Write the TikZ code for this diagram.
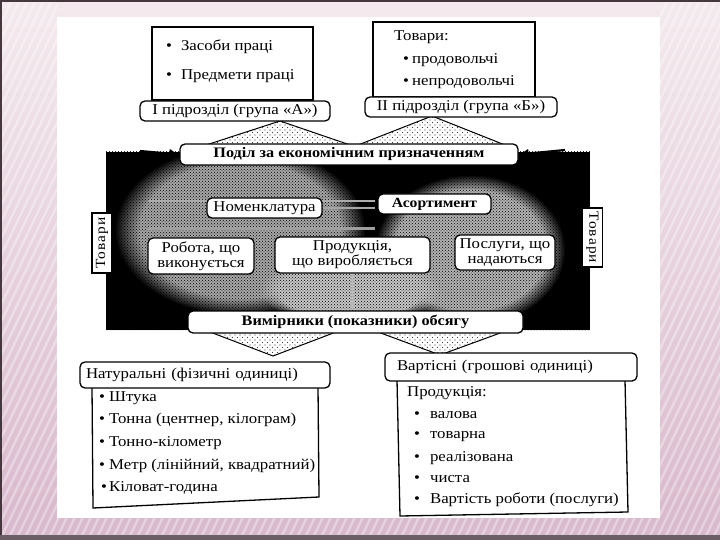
\documentclass[tikz,border=0pt]{standalone}
\usepackage{fontspec}
\setmainfont{Liberation Serif}[FakeStretch=1.12]
\newfontfamily\spacedfont[LetterSpace=8,FakeStretch=1.1]{Liberation Serif}
\usetikzlibrary{patterns,arrows.meta,fadings}
\definecolor{slidetop}{RGB}{244,234,238}
\definecolor{slidebot}{RGB}{216,184,204}
\definecolor{frameline}{RGB}{70,55,62}
\pgfdeclarepatternformonly{sparsedots}{\pgfpoint{-1pt}{-1pt}}{\pgfpoint{6pt}{6pt}}{\pgfpoint{5pt}{5pt}}{%
  \pgfpathcircle{\pgfpoint{0pt}{0pt}}{0.6pt}\pgfpathcircle{\pgfpoint{2.5pt}{2.5pt}}{0.6pt}\pgfusepath{fill}}
\begin{document}
\begin{tikzpicture}[x=1pt,y=-1pt,
  txt/.style={inner sep=0pt, font=\fontsize{15}{17}\selectfont},
  rbox/.style={draw, fill=white, rounded corners=5pt, line width=1.3pt, inner sep=0pt, align=center, font=\fontsize{15}{17}\selectfont},
  sqbox/.style={draw, fill=white, line width=1.3pt, inner sep=0pt},
  tri/.style={draw, line width=1pt, pattern=sparsedots, pattern color=black!75},
  bandarrow/.style={line width=2.2pt, -{Latex[length=10pt,width=10pt]}},
  vtext/.style={draw, fill=white, line width=1.2pt, inner sep=0pt, minimum height=20pt, font=\spacedfont\fontsize{14}{15}\selectfont}
]
\useasboundingbox (0,0) rectangle (720,540);
% slide background
\shade[top color=slidetop, bottom color=slidebot] (0,0) rectangle (720,540);
\begin{scope}
  \clip (0,0) rectangle (57,540) (660,0) rectangle (720,540) (57,518) rectangle (660,535);
  \foreach \i in {-400,-392,...,800} \draw[white, opacity=0.35, line width=2.5pt] (\i,540) -- (\i+260,0);
\end{scope}
\fill[frameline] (0,0) rectangle (720,2);
\fill[frameline] (0,0) rectangle (2,540);
\fill[frameline!80] (0,535) rectangle (720,540);
% white panel
\fill[white] (57,17) rectangle (660,518);

% dark band
\fill[black] (106,152) rectangle (590,330);
\fill[gray!70, path fading=circle with fuzzy edge 20 percent] (240,230) ellipse [x radius=125pt, y radius=85pt];
\fill[gray!60, path fading=circle with fuzzy edge 20 percent] (470,250) ellipse [x radius=95pt, y radius=75pt];
\fill[gray!45, path fading=circle with fuzzy edge 20 percent] (350,290) ellipse [x radius=90pt, y radius=35pt];
\fill[pattern=crosshatch dots, pattern color=black] (106,152) rectangle (590,330);
\draw[gray!65, line width=2pt] (148,201) -- (375,201);
\draw[gray!75, line width=3pt] (148,229) -- (375,229);

% upper triangles
\draw[tri] (200,147) -- (280,121) -- (356,147) -- cycle;
\draw[tri] (358,145) -- (432,116) -- (505,145) -- cycle;

% top boxes
\node[sqbox, minimum width=161pt, minimum height=73pt] (boxA) at (232.5,63.5) {};
\node[txt, anchor=west] (a1) at (166,47) {\textbullet\hspace{9pt}Засоби праці};
\node[txt, anchor=west] (a2) at (166,76) {\textbullet\hspace{9pt}Предмети праці};
\node[sqbox, minimum width=162pt, minimum height=75pt] (boxB) at (454,59.5) {};
\node[txt, anchor=west] (b0) at (394,37) {Товари:};
\node[txt, anchor=west] (b1) at (403,60) {\textbullet\hspace{3pt}продовольчі};
\node[txt, anchor=west] (b2) at (403,82) {\textbullet\hspace{3pt}непродовольчі};
\node[rbox, minimum width=190pt, minimum height=20pt] (grA) at (235,111) {I підрозділ (група «А»)};
\node[rbox, minimum width=192pt, minimum height=20pt] (grB) at (461,107) {II підрозділ (група «Б»)};

\node[rbox, minimum width=338pt, minimum height=21pt, font=\bfseries\fontsize{14.5}{16}\selectfont] (podil) at (349,154.5) {Поділ за економічним призначенням};

% band arrows
\coordinate (pL) at (140,151);
\coordinate (pR) at (565,150);
\coordinate (vL) at (140,324);
\coordinate (vR) at (565,323);
\draw[bandarrow] (pL) -- (podil.west);
\draw[bandarrow] (pR) -- (podil.east);

% inner boxes
\node[rbox, minimum width=115pt, minimum height=20pt] (nomen) at (264.5,208) {Номенклатура};
\draw[gray!70, line width=2pt] (nomen.east) -- (375,208);
\node[rbox, minimum width=113pt, minimum height=20pt, font=\bfseries\fontsize{14}{16}\selectfont] (asort) at (434.5,204) {Асортимент};
\node[rbox, minimum width=106pt, minimum height=36pt, font=\fontsize{15}{15}\selectfont] (robota) at (201,256) {Робота, що\\виконується};
\node[rbox, minimum width=155pt, minimum height=36pt, font=\fontsize{15}{15}\selectfont] (produk) at (352.5,255) {Продукція,\\що виробляється};
\node[rbox, minimum width=100pt, minimum height=35pt, font=\fontsize{15}{15}\selectfont] (posl) at (505,252.5) {Послуги, що\\надаються};
\node[vtext, minimum width=60pt, rotate=90] (tovL) at (102,243) {Товари};
\node[vtext, minimum width=59pt, rotate=-90] (tovR) at (592.5,237.5) {Товари};

% lower triangles
\draw[tri] (210,332) -- (273,356) -- (336,332) -- cycle;
\draw[tri] (378,332) -- (440,355) -- (503,332) -- cycle;

\node[rbox, minimum width=335pt, minimum height=22pt, font=\bfseries\fontsize{14.5}{16}\selectfont] (vym) at (355.5,322) {Вимірники (показники) обсягу};
\draw[gray!55, line width=1pt, -{Latex[length=8pt,width=6pt]}] (produk.south) -- (produk.south |- vym.north);
\draw[bandarrow] (vL) -- (vym.west);
\draw[bandarrow] (vR) -- (vym.east);

% lower lists
\draw[fill=white, line width=1.3pt] (92,386) -- (318,386) -- (319,497) -- (93,508) -- cycle;
\draw[fill=white, line width=1.3pt] (397,380) -- (625,380) -- (628,512) -- (400,516) -- cycle;
\node[rbox, minimum width=250pt, minimum height=26pt, text width=238pt, align=left] (natur) at (205,375) {Натуральні (фізичні одиниці)};
\node[rbox, minimum width=252pt, minimum height=28pt, text width=228pt, align=left] (vart) at (511,367) {Вартісні (грошові одиниці)};

\node[txt, anchor=west] (n1) at (99,398) {\textbullet\hspace{4pt}Штука};
\node[txt, anchor=west] (n2) at (99,420) {\textbullet\hspace{4pt}Тонна (центнер, кілограм)};
\node[txt, anchor=west] (n3) at (99,443) {\textbullet\hspace{4pt}Тонно-кілометр};
\node[txt, anchor=west] (n4) at (99,466) {\textbullet\hspace{4pt}Метр (лінійний, квадратний)};
\node[txt, anchor=west] (n5) at (101,488) {\textbullet\hspace{2pt}Кіловат-година};

\node[txt, anchor=west] (v0) at (407,393) {Продукція:};
\node[txt, anchor=west] (v1) at (414,415) {\textbullet\hspace{10pt}валова};
\node[txt, anchor=west] (v2) at (414,437) {\textbullet\hspace{10pt}товарна};
\node[txt, anchor=west] (v3) at (414,458) {\textbullet\hspace{10pt}реалізована};
\node[txt, anchor=west] (v4) at (414,479) {\textbullet\hspace{10pt}чиста};
\node[txt, anchor=west] (v5) at (414,500) {\textbullet\hspace{10pt}Вартість роботи (послуги)};
\end{tikzpicture}
\end{document}
